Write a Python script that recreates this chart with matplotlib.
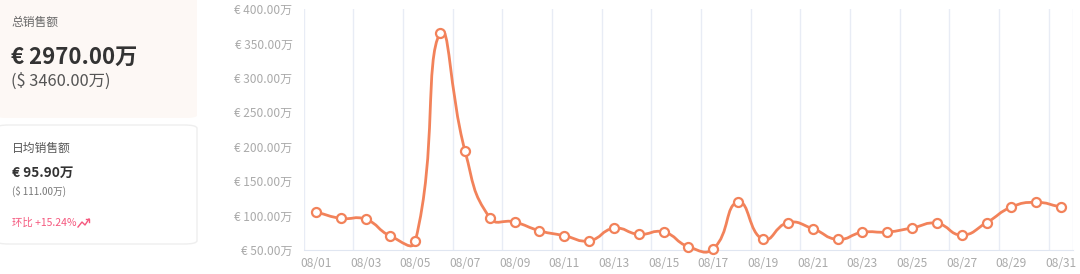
"""Daily sales trend card with summary panels (recreated)."""
import matplotlib
matplotlib.use("Agg")
import matplotlib.pyplot as plt
from matplotlib.patches import FancyBboxPatch, PathPatch
from matplotlib.path import Path
from matplotlib.lines import Line2D
import numpy as np

plt.rcParams['font.family'] = ['Noto Sans CJK SC', 'DejaVu Sans']

# data
days = [f"08/{d:02d}" for d in range(1, 32)]
sales = [105.2, 96.0, 94.6, 70.3, 62.6, 365.6, 194.2, 96.9, 90.7, 78.0,
         70.8, 63.5, 81.5, 72.8, 76.1, 54.8, 51.9, 119.7, 65.5, 89.7,
         81.0, 65.5, 75.7, 76.1, 82.0, 88.7, 71.8, 89.7, 112.4, 119.2, 112.4]
y_ticks = [50, 100, 150, 200, 250, 300, 350, 400]

total_title = "总销售额"
total_eur = "€ 2970.00万"
total_usd = "($ 3460.00万)"
avg_title = "日均销售额"
avg_eur = "€ 95.90万"
avg_usd = "($ 111.00万)"
ratio_text = "环比 +15.24%"

LINE_COLOR = '#F2825A'
W, H = 1080, 274


def fx(px):
    return px / W


def fy(py):
    return 1 - py / H


fig = plt.figure(figsize=(W / 100, H / 100), dpi=100)
fig.patch.set_facecolor('white')

# summary cards
card1 = FancyBboxPatch((fx(-4), fy(118)), fx(201), 118 / H + 0.02,
                       boxstyle="round,pad=0,rounding_size=0.01",
                       transform=fig.transFigure, facecolor='#FDF8F5',
                       edgecolor='none')
fig.add_artist(card1)
card2 = FancyBboxPatch((fx(-4), fy(244)), fx(201), 119 / H,
                       boxstyle="round,pad=0,rounding_size=0.012",
                       transform=fig.transFigure, facecolor='white',
                       edgecolor='#EEEEEE', linewidth=1)
fig.add_artist(card2)

fig.text(fx(11), fy(22), total_title, fontsize=8.5, color='#666666', va='center')
fig.text(fx(11), fy(57), total_eur, fontsize=16, color='#333333',
         fontweight='bold', va='center')
fig.text(fx(11), fy(81), total_usd, fontsize=11.8, color='#555555', va='center')

fig.text(fx(12), fy(148), avg_title, fontsize=8.5, color='#555555', va='center')
fig.text(fx(12), fy(173), avg_eur, fontsize=9.8, color='#333333',
         fontweight='bold', va='center')
fig.text(fx(12), fy(191), avg_usd, fontsize=7, color='#777777', va='center')
fig.text(fx(12), fy(223), ratio_text, fontsize=7.5, color='#F5587E', va='center')

# small trend-up icon
ix = np.array([78, 82, 85, 89]) + 0.0
iy = np.array([227, 222, 225, 219]) + 0.0
fig.add_artist(Line2D(fx(ix), fy(iy), color='#F5587E', lw=1,
                      transform=fig.transFigure))
fig.add_artist(Line2D(fx(np.array([86, 89, 89])), fy(np.array([219, 219, 222])),
                      color='#F5587E', lw=1, transform=fig.transFigure))

# chart
ax = fig.add_axes([fx(303.5), fy(250), fx(1073.5 - 303.5), (250 - 9) / H])
x = np.arange(1, len(days) + 1)
ax.set_xlim(0.5, len(days) + 0.5)
ax.set_ylim(y_ticks[0], y_ticks[-1])

for s in ['top', 'right', 'left']:
    ax.spines[s].set_visible(False)
ax.spines['bottom'].set_color('#E0E6F1')

ax.set_yticks(y_ticks)
ax.set_yticklabels([f"€ {v:.2f}万" for v in y_ticks])
ax.set_xticks(x[::2])
ax.set_xticklabels(days[::2])
grid_pos = list(np.arange(0.5, len(days), 2)) + [len(days) + 0.5]
ax.set_xticks(grid_pos, minor=True)
ax.tick_params(axis='both', which='both', length=0, colors='#AAAAAA',
               labelsize=8.6)
ax.tick_params(axis='y', pad=8)
ax.tick_params(axis='x', pad=5)
ax.grid(True, which='minor', axis='x', color='#E8ECF5', lw=1)
ax.grid(False, which='major')

# smooth curve (echarts-like bezier smoothing in display space)
pts = ax.transData.transform(np.column_stack([x, sales]))
smooth = 0.5
n = len(pts)
cp_in = pts.copy()
cp_out = pts.copy()
for i in range(n):
    prev = pts[max(i - 1, 0)]
    nxt = pts[min(i + 1, n - 1)]
    v = nxt - prev
    l0 = np.hypot(*(pts[i] - prev))
    l1 = np.hypot(*(nxt - pts[i]))
    r = l1 / (l0 + l1) if (l0 + l1) > 0 else 0.5
    cp_out[i] = pts[i] + v * smooth * r
    cp_in[i] = pts[i] - v * smooth * (1 - r)
verts = [pts[0]]
codes = [Path.MOVETO]
for i in range(n - 1):
    verts += [cp_out[i], cp_in[i + 1], pts[i + 1]]
    codes += [Path.CURVE4] * 3
verts = ax.transData.inverted().transform(np.array(verts))
ax.add_patch(PathPatch(Path(verts, codes), fill=False, edgecolor=LINE_COLOR,
                       lw=2, transform=ax.transData, zorder=3, clip_on=False))
ax.plot(x, sales, linestyle='none', marker='o', markersize=6.5,
        markerfacecolor='white', markeredgecolor=LINE_COLOR,
        markeredgewidth=1.6, zorder=4, clip_on=False)

fig.savefig('out.png', dpi=100, facecolor='white')
